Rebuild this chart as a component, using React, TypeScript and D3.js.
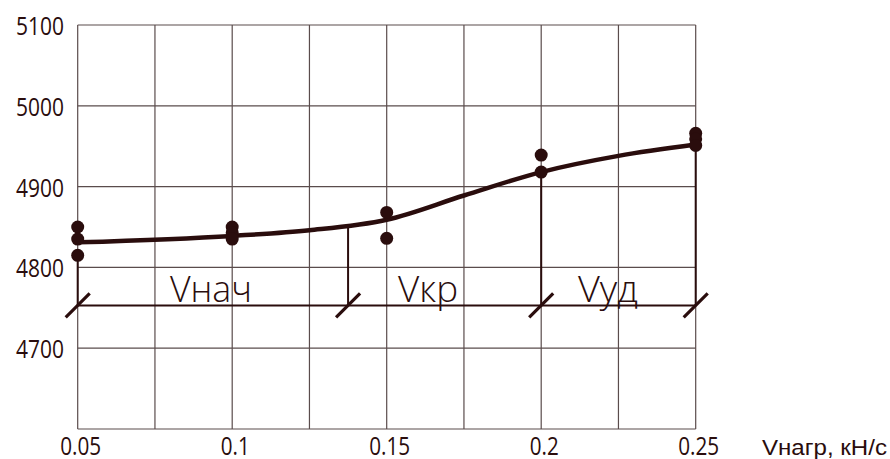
import React from 'react';
import * as d3 from 'd3';

// measured points, V (m/s) vs loading rate
const loadRates = [0.05, 0.1, 0.15, 0.2, 0.25];
const measured = [
  [4850, 4835, 4815],
  [4850, 4843, 4835],
  [4868, 4836],
  [4939, 4918],
  [4966, 4959, 4951],
];

// smoothed curve through the data
const curveX = [0.05, 0.1, 0.125, 0.15, 0.175, 0.2, 0.225, 0.25];
const curveY = [4831, 4839, 4846, 4859, 4889, 4918, 4938, 4952];

// segment boundaries and labels
const bounds = [0.05, 0.1375, 0.2, 0.25];
const segLabels = ['Vнач', 'Vкр', 'Vуд'];
const segLabelX = [0.0931, 0.1634, 0.2216];
const baseValue = 4753;

const xTicks = [0.05, 0.1, 0.15, 0.2, 0.25];
const xTickLabels = ['0.05', '0.1', '0.15', '0.2', '0.25'];
const yTicks = [4700, 4800, 4900, 5000, 5100];
const xGrid = d3.range(0, 9).map(i => 0.05 + i * 0.025);
const yGrid = [4600, 4700, 4800, 4900, 5000, 5100];

const width = 890, height = 459;
const ink = '#2a0d0d';
const gridColor = '#5a4c4c';
const techFont = '"Open Sans", "DejaVu Sans Condensed", sans-serif';

// rough width of a label in the narrow drafting font
const textW = (s: string) => s.split('').reduce((w, c) => w + (c === '.' ? 5 : 12), 0);

export default function App() {
  const x = d3.scaleLinear().domain([0.05, 0.25]).range([77.7, 695.7]);
  const y = d3.scaleLinear().domain([4600, 5100]).range([429, 25]);

  const curvePts: [number, number][] = curveX.map((v, i) => [v, curveY[i]]);
  const line = d3.line<[number, number]>()
    .x(d => x(d[0]))
    .y(d => y(d[1]))
    .curve(d3.curveMonotoneX);

  // value of the curve at an arbitrary x (linear between fit points)
  const curveAt = d3.scaleLinear().domain(curveX).range(curveY);

  const y0 = y(baseValue);

  return (
    <svg width={width} height={height} style={{ position: 'absolute', left: 0, top: 0, background: '#fff' }}>
      <g stroke={gridColor} strokeWidth={1.2}>
        {xGrid.map((v, i) => (
          <line key={'gx' + i} x1={x(v)} x2={x(v)} y1={y(5100)} y2={y(4600)} />
        ))}
        {yGrid.map((v, i) => (
          <line key={'gy' + i} x1={x(0.05)} x2={x(0.25)} y1={y(v)} y2={y(v)} />
        ))}
      </g>

      <g fill={ink} fontFamily={techFont} fontWeight={400} fontSize={25}>
        {yTicks.map(v => (
          <text key={v} x={64 - textW(String(v))} y={y(v)} dominantBaseline="central"
            textLength={textW(String(v))} lengthAdjust="spacingAndGlyphs">{v}</text>
        ))}
        {xTicks.map((v, i) => (
          <text key={v} x={x(v) + 3 - textW(xTickLabels[i]) / 2} y={455}
            textLength={textW(xTickLabels[i])} lengthAdjust="spacingAndGlyphs">{xTickLabels[i]}</text>
        ))}
      </g>

      <text x={762} y={455} fill={ink} fontFamily='"Liberation Sans", Arial, sans-serif' fontSize={22}
        textLength={125} lengthAdjust="spacingAndGlyphs">Vнагр, кН/с</text>

      {/* dimension lines */}
      <g stroke={ink} strokeWidth={2}>
        <line x1={x(0.05)} x2={x(0.25)} y1={y0} y2={y0} />
        {bounds.map((b, i) => (
          <line key={'v' + i} x1={x(b)} x2={x(b)} y1={y(i === 0 ? 4815 : curveAt(b))} y2={y0} />
        ))}
      </g>
      <g stroke={ink} strokeWidth={3.2}>
        {bounds.map((b, i) => (
          <line key={'t' + i} x1={x(b) - 12} x2={x(b) + 12} y1={y0 + 12} y2={y0 - 12} />
        ))}
      </g>
      <g fill={ink} fontFamily={techFont} fontWeight={300} fontSize={37}>
        {segLabels.map((s, i) => (
          <text key={s} x={x(segLabelX[i])} y={302} textAnchor="middle"
            textLength={i === 0 ? 82 : 60} lengthAdjust="spacingAndGlyphs">{s}</text>
        ))}
      </g>

      <path d={line(curvePts) ?? ''} fill="none" stroke={ink} strokeWidth={4.5} strokeLinecap="round" />

      <g fill={ink}>
        {measured.map((vals, i) =>
          vals.map((v, j) => (
            <circle key={`${i}-${j}`} cx={x(loadRates[i])} cy={y(v)} r={6.5} />
          ))
        )}
      </g>
    </svg>
  );
}
